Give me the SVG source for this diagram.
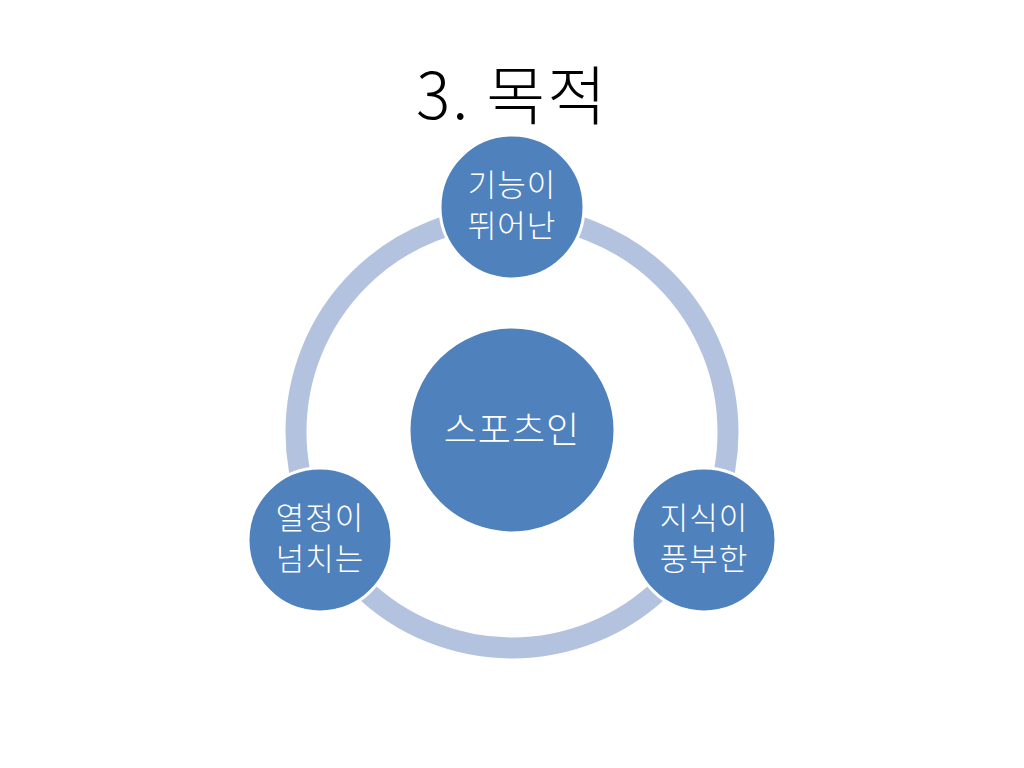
<svg xmlns="http://www.w3.org/2000/svg" width="1024" height="768" viewBox="0 0 1024 768">
<style>
.node{fill:#4F81BD;stroke:#FFFFFF;stroke-width:3}
.lbl{fill:#FFFFFF;font-family:"Noto Sans CJK KR","Noto Sans",sans-serif;font-weight:300;font-size:31px;text-anchor:middle;letter-spacing:1px}
.big{font-size:36px}
.title{fill:#000000;font-family:"Noto Sans CJK KR","Noto Sans",sans-serif;font-weight:300;font-size:64px;text-anchor:middle;letter-spacing:2px}
</style>
<rect width="1024" height="768" fill="#FFFFFF"/>
<text class="title" x="512" y="119">3. 목적</text>
<g id="connectors">
<circle cx="512" cy="432" r="216" fill="none" stroke="#B3C2DE" stroke-width="21"/>
</g>
<g id="center">
<circle class="node" cx="512" cy="430" r="103"/>
<text class="lbl big" x="512" y="443">스포츠인</text>
</g>
<g id="top">
<circle class="node" cx="512" cy="207" r="72"/>
<text class="lbl" x="512" y="196">기능이</text>
<text class="lbl" x="512" y="237">뛰어난</text>
</g>
<g id="left">
<circle class="node" cx="320" cy="540" r="72"/>
<text class="lbl" x="320" y="529">열정이</text>
<text class="lbl" x="320" y="570">넘치는</text>
</g>
<g id="right">
<circle class="node" cx="704" cy="540" r="72"/>
<text class="lbl" x="704" y="529">지식이</text>
<text class="lbl" x="704" y="570">풍부한</text>
</g>
</svg>
